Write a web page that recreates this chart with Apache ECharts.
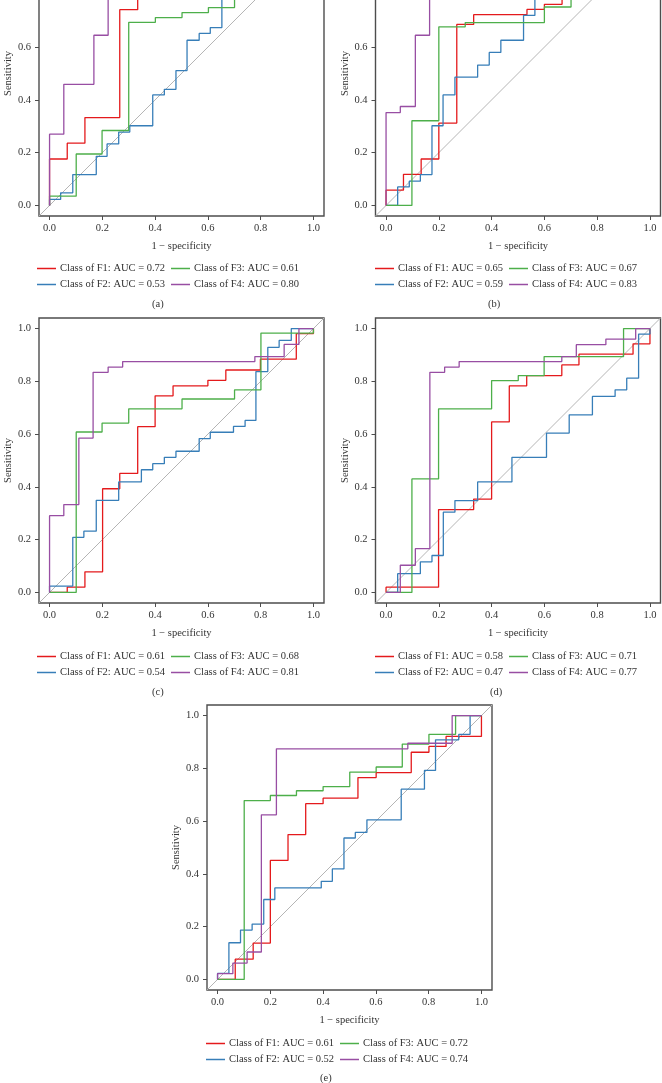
<!DOCTYPE html>
<html><head><meta charset="utf-8">
<script src="https://cdn.jsdelivr.net/npm/echarts@6/dist/echarts.min.js"></script>
<style>html,body{margin:0;padding:0;background:#fff;overflow:hidden;width:662px;height:1083px;}#c{position:absolute;left:0;top:-80px;width:662px;height:1163px;}</style>
</head><body><div id="c"></div>
<script>
// ---- data: ROC curve vertices [1 - specificity, sensitivity] ----
const a_F1 = [[0,0],[0,0.176],[0.067,0.176],[0.067,0.236],[0.134,0.236],[0.134,0.333],[0.266,0.333],[0.266,0.742],[0.334,0.742],[0.334,0.88],[0.6,0.88],[0.6,0.95],[0.8,0.95],[0.8,1],[1,1]];
const a_F2 = [[0,0],[0,0.023],[0.042,0.023],[0.042,0.048],[0.088,0.048],[0.088,0.117],[0.177,0.117],[0.177,0.186],[0.218,0.186],[0.218,0.233],[0.262,0.233],[0.262,0.278],[0.304,0.278],[0.304,0.302],[0.391,0.302],[0.391,0.419],[0.435,0.419],[0.435,0.440],[0.479,0.440],[0.479,0.511],[0.521,0.511],[0.521,0.626],[0.567,0.626],[0.567,0.652],[0.609,0.652],[0.609,0.674],[0.653,0.674],[0.653,0.82],[0.8,0.82],[0.8,0.9],[0.9,0.9],[0.9,1],[1,1]];
const a_F3 = [[0,0],[0,0.035],[0.101,0.035],[0.101,0.195],[0.199,0.195],[0.199,0.284],[0.300,0.284],[0.300,0.694],[0.401,0.694],[0.401,0.712],[0.502,0.712],[0.502,0.731],[0.602,0.731],[0.602,0.750],[0.701,0.750],[0.701,0.85],[0.85,0.85],[0.85,1],[1,1]];
const a_F4 = [[0,0],[0,0.270],[0.054,0.270],[0.054,0.459],[0.168,0.459],[0.168,0.645],[0.222,0.645],[0.222,0.87],[0.4,0.87],[0.4,0.95],[0.7,0.95],[0.7,1],[1,1]];

const b_F1 = [[0,0],[0,0.058],[0.066,0.058],[0.066,0.118],[0.133,0.118],[0.133,0.176],[0.2,0.176],[0.2,0.312],[0.268,0.312],[0.268,0.686],[0.332,0.686],[0.332,0.723],[0.534,0.723],[0.534,0.743],[0.600,0.743],[0.600,0.762],[0.667,0.762],[0.667,0.85],[0.85,0.85],[0.85,1],[1,1]];
const b_F2 = [[0,0],[0.044,0],[0.044,0.070],[0.088,0.070],[0.088,0.092],[0.130,0.092],[0.130,0.117],[0.174,0.117],[0.174,0.302],[0.216,0.302],[0.216,0.419],[0.261,0.419],[0.261,0.486],[0.347,0.486],[0.347,0.532],[0.391,0.532],[0.391,0.580],[0.435,0.580],[0.435,0.626],[0.521,0.626],[0.521,0.720],[0.564,0.720],[0.564,0.82],[0.75,0.82],[0.75,0.92],[0.9,0.92],[0.9,1],[1,1]];
const b_F3 = [[0,0],[0.098,0],[0.098,0.321],[0.2,0.321],[0.2,0.677],[0.300,0.677],[0.300,0.693],[0.600,0.693],[0.600,0.752],[0.701,0.752],[0.701,0.88],[0.9,0.88],[0.9,1],[1,1]];
const b_F4 = [[0,0],[0,0.352],[0.054,0.352],[0.054,0.375],[0.111,0.375],[0.111,0.645],[0.165,0.645],[0.165,0.9],[0.5,0.9],[0.5,1],[1,1]];

const c_F1 = [[0,0],[0.067,0],[0.067,0.02],[0.134,0.02],[0.134,0.078],[0.201,0.078],[0.201,0.393],[0.266,0.393],[0.266,0.451],[0.334,0.451],[0.334,0.628],[0.400,0.628],[0.400,0.745],[0.468,0.745],[0.468,0.783],[0.600,0.783],[0.600,0.804],[0.668,0.804],[0.668,0.843],[0.799,0.843],[0.799,0.884],[0.935,0.884],[0.935,0.981],[1,0.981],[1,1]];
const c_F2 = [[0,0],[0,0.024],[0.088,0.024],[0.088,0.209],[0.130,0.209],[0.130,0.232],[0.177,0.232],[0.177,0.349],[0.262,0.349],[0.262,0.419],[0.348,0.419],[0.348,0.465],[0.391,0.465],[0.391,0.488],[0.435,0.488],[0.435,0.512],[0.479,0.512],[0.479,0.535],[0.567,0.535],[0.567,0.583],[0.609,0.583],[0.609,0.607],[0.697,0.607],[0.697,0.629],[0.741,0.629],[0.741,0.652],[0.782,0.652],[0.782,0.837],[0.827,0.837],[0.827,0.929],[0.870,0.929],[0.870,0.955],[0.916,0.955],[0.916,1],[1,1]];
const c_F3 = [[0,0],[0.101,0],[0.101,0.608],[0.199,0.608],[0.199,0.642],[0.300,0.642],[0.300,0.696],[0.502,0.696],[0.502,0.733],[0.701,0.733],[0.701,0.768],[0.801,0.768],[0.801,0.983],[1,0.983],[1,1]];
const c_F4 = [[0,0],[0,0.291],[0.054,0.291],[0.054,0.333],[0.111,0.333],[0.111,0.585],[0.165,0.585],[0.165,0.834],[0.222,0.834],[0.222,0.854],[0.277,0.854],[0.277,0.875],[0.778,0.875],[0.778,0.894],[0.889,0.894],[0.889,0.940],[0.945,0.940],[0.945,1],[1,1]];

const d_F1 = [[0,0],[0,0.02],[0.199,0.02],[0.199,0.314],[0.332,0.314],[0.332,0.354],[0.4,0.354],[0.4,0.646],[0.467,0.646],[0.467,0.783],[0.533,0.783],[0.533,0.822],[0.666,0.822],[0.666,0.862],[0.731,0.862],[0.731,0.903],[0.936,0.903],[0.936,0.942],[1,0.942],[1,1]];
const d_F2 = [[0,0],[0.044,0],[0.044,0.071],[0.130,0.071],[0.130,0.116],[0.174,0.116],[0.174,0.140],[0.217,0.140],[0.217,0.304],[0.261,0.304],[0.261,0.348],[0.347,0.348],[0.347,0.419],[0.477,0.419],[0.477,0.512],[0.608,0.512],[0.608,0.604],[0.694,0.604],[0.694,0.673],[0.782,0.673],[0.782,0.743],[0.868,0.743],[0.868,0.768],[0.912,0.768],[0.912,0.812],[0.957,0.812],[0.957,0.979],[1,0.979],[1,1]];
const d_F3 = [[0,0],[0.098,0],[0.098,0.430],[0.199,0.430],[0.199,0.696],[0.4,0.696],[0.4,0.803],[0.501,0.803],[0.501,0.822],[0.599,0.822],[0.599,0.894],[0.900,0.894],[0.900,1],[1,1]];
const d_F4 = [[0,0],[0.054,0],[0.054,0.103],[0.111,0.103],[0.111,0.166],[0.166,0.166],[0.166,0.834],[0.222,0.834],[0.222,0.854],[0.277,0.854],[0.277,0.875],[0.666,0.875],[0.666,0.894],[0.721,0.894],[0.721,0.939],[0.833,0.939],[0.833,0.96],[0.946,0.96],[0.946,1],[1,1]];

const e_F1 = [[0,0],[0.067,0],[0.067,0.077],[0.135,0.077],[0.135,0.138],[0.2,0.138],[0.2,0.451],[0.267,0.451],[0.267,0.549],[0.334,0.549],[0.334,0.666],[0.4,0.666],[0.4,0.687],[0.532,0.687],[0.532,0.765],[0.601,0.765],[0.601,0.784],[0.734,0.784],[0.734,0.861],[0.801,0.861],[0.801,0.883],[0.866,0.883],[0.866,0.921],[1,0.921],[1,1]];
const e_F2 = [[0,0],[0,0.023],[0.043,0.023],[0.043,0.139],[0.087,0.139],[0.087,0.187],[0.131,0.187],[0.131,0.210],[0.175,0.210],[0.175,0.303],[0.217,0.303],[0.217,0.347],[0.393,0.347],[0.393,0.372],[0.435,0.372],[0.435,0.419],[0.479,0.419],[0.479,0.536],[0.522,0.536],[0.522,0.557],[0.566,0.557],[0.566,0.605],[0.696,0.605],[0.696,0.721],[0.784,0.721],[0.784,0.792],[0.826,0.792],[0.826,0.908],[0.914,0.908],[0.914,0.929],[0.957,0.929],[0.957,1],[1,1]];
const e_F3 = [[0,0],[0.101,0],[0.101,0.678],[0.2,0.678],[0.2,0.697],[0.299,0.697],[0.299,0.715],[0.4,0.715],[0.4,0.731],[0.501,0.731],[0.501,0.786],[0.601,0.786],[0.601,0.805],[0.700,0.805],[0.700,0.892],[0.801,0.892],[0.801,0.929],[0.902,0.929],[0.902,1],[1,1]];
const e_F4 = [[0,0],[0,0.022],[0.058,0.022],[0.058,0.062],[0.112,0.062],[0.112,0.104],[0.166,0.104],[0.166,0.624],[0.223,0.624],[0.223,0.874],[0.721,0.874],[0.721,0.895],[0.889,0.895],[0.889,1],[1,1]];

const classes = ['F1','F2','F3','F4'];
const auc_a = ['0.72','0.53','0.61','0.80'];
const auc_b = ['0.65','0.59','0.67','0.83'];
const auc_c = ['0.61','0.54','0.68','0.81'];
const auc_d = ['0.58','0.47','0.71','0.77'];
const auc_e = ['0.61','0.52','0.72','0.74'];
const tickValues = [0, 0.2, 0.4, 0.6, 0.8, 1.0];
const panelLabels = ['(a)','(b)','(c)','(d)','(e)'];
const xTitle = '1 \u2212 specificity';
const yTitle = 'Sensitivity';

// ---- layout / style (chart canvas is shifted up by OFF px so the top panels are cropped) ----
const OFF = 80;
const FONT = 'Liberation Serif';
const COLORS = ['#E41A1C','#377EB8','#4DAF4A','#984EA3'];
const panels = [
  {curves:[a_F1,a_F2,a_F3,a_F4], auc:auc_a, left:39,   top:-69, legTop:263, leg1:37,  leg2:171, lab:[160,306]},
  {curves:[b_F1,b_F2,b_F3,b_F4], auc:auc_b, left:375.5,top:-69, legTop:263, leg1:375, leg2:509, lab:[496,306]},
  {curves:[c_F1,c_F2,c_F3,c_F4], auc:auc_c, left:39,   top:318, legTop:651, leg1:37,  leg2:171, lab:[160,694]},
  {curves:[d_F1,d_F2,d_F3,d_F4], auc:auc_d, left:375.5,top:318, legTop:651, leg1:375, leg2:509, lab:[498,694]},
  {curves:[e_F1,e_F2,e_F3,e_F4], auc:auc_e, left:207,  top:705, legTop:1038, leg1:206, leg2:340, lab:[328,1080]}
];
const SIZE = 285;

const grid = [], xAxis = [], yAxis = [], series = [], legend = [], graphic = [];
panels.forEach((p, i) => {
  grid.push({left:p.left, top:p.top + OFF, width:SIZE, height:SIZE, show:true, borderColor:'#4d4d4d', borderWidth:1.4, backgroundColor:'transparent'});
  const common = {
    type:'value', min:-0.04, max:1.04, gridIndex:i,
    axisLine:{show:false, onZero:false},
    splitLine:{show:false},
    axisTick:{show:true, customValues:tickValues, length:4, lineStyle:{color:'#4d4d4d', width:1}},
    axisLabel:{show:true, customValues:tickValues, formatter:v => v.toFixed(1), fontFamily:FONT, fontSize:10.5, color:'#333', margin:7},
    nameLocation:'middle', nameTextStyle:{fontFamily:FONT, fontSize:10.5, color:'#333'}
  };
  xAxis.push(Object.assign({}, common, {position:'bottom', name:xTitle, nameGap:25}));
  yAxis.push(Object.assign({}, common, {position:'left', name:yTitle, nameGap:24, axisLabel:Object.assign({}, common.axisLabel, {margin:8})}));
  series.push({type:'line', xAxisIndex:i, yAxisIndex:i, data:[[-0.04,-0.04],[1.04,1.04]], symbol:'none', silent:true,
    lineStyle:{color:'#b5b5b5', width:1}, z:1});
  const names = [];
  p.curves.forEach((c, k) => {
    const nm = 'Class of ' + classes[k] + ': AUC = ' + p.auc[k] + '\u200b'.repeat(i);
    names.push(nm);
    series.push({type:'line', name:nm, xAxisIndex:i, yAxisIndex:i, data:c, symbol:'none', clip:true,
      lineStyle:{color:COLORS[k], width:1.3}, itemStyle:{color:COLORS[k]}, z:2+k});
  });
  const legBase = {orient:'vertical', top:p.legTop + OFF, itemWidth:19, itemHeight:1.5, icon:'rect', itemGap:5, padding:0,
    selectedMode:false, textStyle:{fontFamily:FONT, fontSize:10.5, color:'#333', padding:[0,0,0,-1]}};
  legend.push(Object.assign({}, legBase, {left:p.leg1, data:[names[0], names[1]]}));
  legend.push(Object.assign({}, legBase, {left:p.leg2, data:[names[2], names[3]]}));
  graphic.push({type:'text', left:p.lab[0]-8, top:p.lab[1]-7 + OFF, style:{text:panelLabels[i], font:'10.5px "Liberation Serif"', fill:'#333'}});
});

const chart = echarts.init(document.getElementById('c'), null, {renderer:'canvas'});
chart.setOption({animation:false, grid, xAxis, yAxis, series, legend, graphic});
</script></body></html>
